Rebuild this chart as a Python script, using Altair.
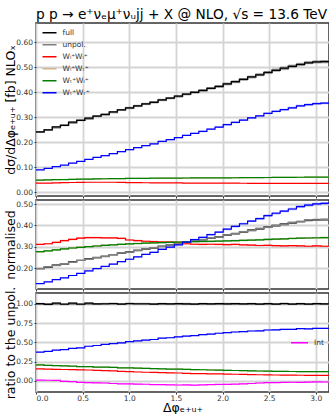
import math
import altair as alt
import pandas as pd

PI = math.pi
N_BINS = 36
BW = PI / N_BINS

full = [0.242, 0.250, 0.262, 0.268, 0.281, 0.288, 0.297, 0.305, 0.312, 0.322, 0.330, 0.338,
        0.346, 0.354, 0.360, 0.370, 0.377, 0.385, 0.393, 0.400, 0.408, 0.416, 0.424, 0.434,
        0.443, 0.452, 0.462, 0.470, 0.480, 0.488, 0.497, 0.504, 0.512, 0.518, 0.522, 0.523]
unpol = [0.241, 0.251, 0.259, 0.269, 0.278, 0.289, 0.294, 0.305, 0.311, 0.320, 0.331, 0.336,
         0.345, 0.353, 0.361, 0.368, 0.377, 0.383, 0.392, 0.401, 0.406, 0.416, 0.422, 0.433,
         0.441, 0.452, 0.460, 0.471, 0.478, 0.489, 0.494, 0.505, 0.510, 0.519, 0.520, 0.523]
w_ll = [0.0372, 0.0376, 0.0384, 0.0393, 0.0400, 0.0407, 0.0410, 0.0410, 0.0409, 0.0409, 0.0406, 0.0397,
        0.0393, 0.0390, 0.0388, 0.0387, 0.0386, 0.0384, 0.0376, 0.0373, 0.0372, 0.0373, 0.0372, 0.0371,
        0.0372, 0.0370, 0.0368, 0.0366, 0.0367, 0.0365, 0.0364, 0.0365, 0.0364, 0.0362, 0.0364, 0.0362]
w_lt = [0.0494, 0.0503, 0.0510, 0.0519, 0.0525, 0.0533, 0.0537, 0.0544, 0.0548, 0.0554, 0.0556, 0.0562,
        0.0563, 0.0568, 0.0569, 0.0573, 0.0573, 0.0577, 0.0577, 0.0581, 0.0580, 0.0583, 0.0583, 0.0587,
        0.0587, 0.0591, 0.0591, 0.0596, 0.0597, 0.0601, 0.0602, 0.0607, 0.0608, 0.0611, 0.0611, 0.0614]
w_tl = [0.0495, 0.0502, 0.0511, 0.0518, 0.0526, 0.0532, 0.0538, 0.0543, 0.0549, 0.0553, 0.0557, 0.0561,
        0.0564, 0.0567, 0.0570, 0.0572, 0.0574, 0.0576, 0.0578, 0.0580, 0.0581, 0.0582, 0.0584, 0.0586,
        0.0588, 0.0590, 0.0592, 0.0595, 0.0598, 0.0600, 0.0603, 0.0606, 0.0609, 0.0610, 0.0612, 0.0613]
w_tt = [0.090, 0.096, 0.103, 0.109, 0.117, 0.124, 0.132, 0.140, 0.147, 0.155, 0.163, 0.171,
        0.179, 0.187, 0.194, 0.204, 0.211, 0.219, 0.228, 0.236, 0.244, 0.253, 0.261, 0.271,
        0.280, 0.289, 0.298, 0.306, 0.316, 0.324, 0.331, 0.338, 0.346, 0.351, 0.355, 0.357]
int_ratio = [0.008, 0.006, 0.004, -0.008, -0.012, -0.022, -0.026, -0.028, -0.030, -0.036, -0.040, -0.042,
             -0.045, -0.046, -0.050, -0.052, -0.054, -0.056, -0.055, -0.057, -0.054, -0.050, -0.048, -0.047,
             -0.044, -0.040, -0.036, -0.030, -0.026, -0.025, -0.022, -0.020, -0.021, -0.018, -0.016, -0.017]

names = ["full", "unpol.", "Wₗ⁺Wₗ⁺", "Wₗ⁺Wₜ⁺", "Wₜ⁺Wₗ⁺", "Wₜ⁺Wₜ⁺"]
colors = ["#000000", "#808080", "#ff0000", "#d2b48c", "#008000", "#0000ff"]
series = [full, unpol, w_ll, w_lt, w_tl, w_tt]

x_ticks = [0.0, 0.5, 1.0, 1.5, 2.0, 2.5, 3.0]
edges = [i * BW for i in range(N_BINS + 1)]
FONT = "DejaVu Sans"


def rows(vals, name, rel=0.012, absw=None):
    ext = list(vals) + [vals[-1]]
    out = []
    for e, v in zip(edges, ext):
        w = absw if absw is not None else abs(v) * rel
        out.append(dict(x=e, y=v, lo=v - w, hi=v + w, s=name))
    return out


def transform(kind):
    out = []
    for vals, name in zip(series, names):
        if kind == "abs":
            v = vals
        elif kind == "norm":
            tot = sum(vals) * BW
            v = [a / tot for a in vals]
        else:
            v = [a / u for a, u in zip(vals, unpol)]
        out += rows(v, name)
    return pd.DataFrame(out)


def make_panel(df, ydom, yvals, ytitle, height, bottom, legend, line_order, extra=None):
    xaxis = alt.Axis(values=x_ticks, grid=True, labels=bottom, format=".1f", tickSize=2,
                     labelPadding=0, domain=False,
                     title="Δφₑ₊ᵤ₊" if bottom else None,
                     titleFontSize=12.5, titleBaseline="alphabetic", titleY=19)
    X = alt.X("x:Q", scale=alt.Scale(domain=[0, PI], nice=False, zero=False), axis=xaxis)
    yaxis = alt.Axis(values=yvals, format=".2f", grid=True, tickSize=2, labelPadding=1.5,
                     domain=False, title=ytitle, titleFontSize=12.5, titleBaseline="alphabetic",
                     titleX=-21.5, titleY=height / 2)
    Y = alt.Y("y:Q", scale=alt.Scale(domain=ydom, nice=False, zero=False), axis=yaxis)
    Ylo = alt.Y("lo:Q", scale=alt.Scale(domain=ydom, nice=False, zero=False), axis=yaxis)
    base = alt.Chart(df)
    layers = []
    for name, col in zip(names, colors):
        layers.append(base.transform_filter(alt.datum.s == name)
                      .mark_area(interpolate="step-after", opacity=0.3, clip=True)
                      .encode(x=X, y=Ylo, y2="hi:Q", color=alt.value(col)))
    for name in line_order:
        col = colors[names.index(name)]
        sw = 1.5 if name == "unpol." else 1.2
        if legend is not None:
            c = alt.Color("s:N", scale=alt.Scale(domain=names, range=colors), legend=legend)
        else:
            c = alt.value(col)
        layers.append(base.transform_filter(alt.datum.s == name)
                      .mark_line(interpolate="step-after", strokeWidth=sw, clip=True)
                      .encode(x=X, y=Y, color=c))
    if extra is not None:
        layers += extra(X, Y, Ylo)
    return alt.layer(*layers).properties(width=293, height=height)


top_legend = alt.Legend(title=None, orient="none", legendX=5.5, legendY=4, symbolType="stroke",
                        symbolSize=196, symbolStrokeWidth=1.5, labelFontSize=7.5, labelFont=FONT,
                        labelColor="#333", labelOffset=5, clipHeight=11.6, rowPadding=0, padding=0)

order_a = ["unpol.", "full", "Wₗ⁺Wₗ⁺", "Wₗ⁺Wₜ⁺", "Wₜ⁺Wₗ⁺", "Wₜ⁺Wₜ⁺"]
order_b = ["full", "unpol.", "Wₗ⁺Wₗ⁺", "Wₗ⁺Wₜ⁺", "Wₜ⁺Wₗ⁺", "Wₜ⁺Wₜ⁺"]

top = make_panel(transform("abs"), [-0.014, 0.677], [0.0, 0.1, 0.2, 0.3, 0.4, 0.5, 0.6],
                 "dσ/dΔφₑ₊ᵤ₊ [fb] NLOₓ", 173, False, top_legend, order_a).properties(
    title=alt.TitleParams("p p → e⁺νₑμ⁺νᵤjj + X @ NLO, √s = 13.6 TeV", anchor="start",
                          frame="group", fontSize=13.7, font=FONT, fontWeight="normal",
                          color="#000", offset=1))

mid = make_panel(transform("norm"), [0.1016, 0.519], [0.2, 0.3, 0.4, 0.5],
                 "normalised", 89, False, None, order_b)

int_df = pd.DataFrame(rows(int_ratio, "Int", absw=0.006))
bottom_legend = alt.Legend(title=None, orient="none", legendX=254, legendY=44, symbolType="stroke",
                           symbolSize=289, symbolStrokeWidth=1.5, labelFontSize=7.5, labelFont=FONT,
                           labelColor="#333", labelOffset=5, clipHeight=11.6, rowPadding=0, padding=0)


def int_layers(X, Y, Ylo):
    b = alt.Chart(int_df)
    return [
        b.mark_area(interpolate="step-after", opacity=0.3, clip=True)
         .encode(x=X, y=Ylo, y2="hi:Q", color=alt.value("#ff00ff")),
        b.mark_line(interpolate="step-after", strokeWidth=1.2, clip=True)
         .encode(x=X, y=Y, color=alt.Color("s:N", scale=alt.Scale(domain=["Int"], range=["#ff00ff"]),
                                           legend=bottom_legend)),
    ]


bot = make_panel(transform("ratio"), [-0.147, 1.143], [0.0, 0.25, 0.5, 0.75, 1.0],
                 "ratio to the unpol.", 99, True, None, order_a, extra=int_layers)

chart = alt.vconcat(top, mid, bot, spacing=4, bounds="flush").resolve_scale(
    color="independent"
).properties(
    autosize=alt.AutoSizeParams(type="none"),
    padding={"left": 36, "top": 23, "right": 0, "bottom": 391},
    background="white"
).configure_view(
    stroke="#333", strokeWidth=1.5
).configure_axis(
    gridColor="#d4d4d4", gridWidth=1.8, tickColor="#333", labelColor="#333",
    labelFont=FONT, labelFontSize=7.5, titleFont=FONT, titleFontWeight="normal", titleColor="#000"
)

chart.save("out.html", embed_options={"renderer": "svg", "actions": False})
